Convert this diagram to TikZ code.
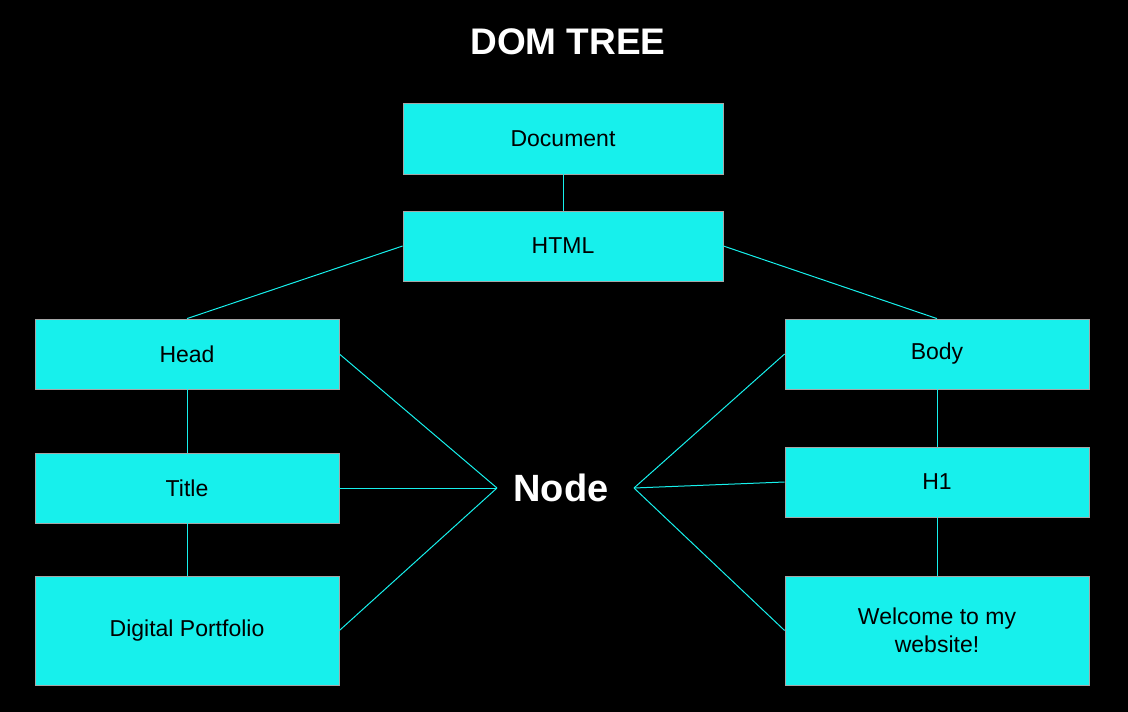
\documentclass[tikz,border=0pt]{standalone}
\usepackage{fontspec}
\setmainfont{Liberation Sans}
\begin{document}
\begin{tikzpicture}[x=1pt,y=-1pt,
  box/.style={draw=gray!70,line width=0.8pt,fill={rgb,255:red,23;green,240;blue,236},minimum width=304pt,minimum height=70pt,inner sep=0pt,align=center,font=\fontsize{23}{28}\selectfont},
  ln/.style={draw={rgb,255:red,23;green,240;blue,236},line width=1pt}]
\fill[black] (0,0) rectangle (1128,712);
\useasboundingbox (0,0) rectangle (1128,712);
\node[text=white,font=\bfseries\fontsize{37}{40}\selectfont] (t) at (568,42) {DOM TREE};
\node[box,minimum width=320pt,minimum height=71pt] (doc) at (563,138.5) {Document};
\node[box,minimum width=320pt] (html) at (563,246) {HTML};
\node[box] (head) at (187,354) {Head};
\node[box] (title) at (187,488) {Title};
\node[box,minimum height=109pt] (dp) at (187,630.5) {Digital Portfolio};
\node[box] (body) at (937,354) {Body};
\node[box] (h1) at (937,482) {H1};
\node[box,minimum height=109pt] (wel) at (937,630.5) {Welcome to my\\website!};
\node[text=white,font=\bfseries\fontsize{38}{40}\selectfont] (node) at (561,488) {Node};
\coordinate (nl) at (497,488);
\coordinate (nr) at (634,488);
\draw[ln] (doc.south) -- (html.north);
\draw[ln] (html.west) -- (head.north);
\draw[ln] (html.east) -- (body.north);
\draw[ln] (head.south) -- (title.north);
\draw[ln] (title.south) -- (dp.north);
\draw[ln] (body.south) -- (h1.north);
\draw[ln] (h1.south) -- (wel.north);
\draw[ln] (head.east) -- (nl);
\draw[ln] (title.east) -- (nl);
\draw[ln] (dp.east) -- (nl);
\draw[ln] (body.west) -- (nr);
\draw[ln] (h1.west) -- (nr);
\draw[ln] (wel.west) -- (nr);
\end{tikzpicture}
\end{document}
